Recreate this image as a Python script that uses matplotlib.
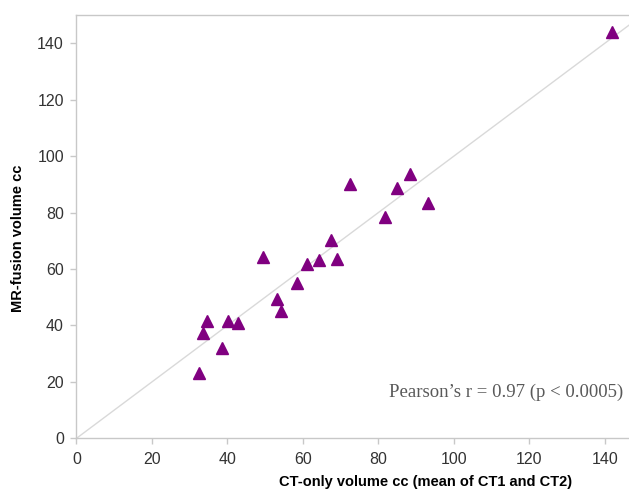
import matplotlib.pyplot as plt

# CT-only volume (mean of CT1 and CT2) vs MR-fusion volume, cc
ct_only = [141.8, 88.4, 72.5, 85.0, 81.8, 93.1, 67.4, 49.3, 68.9, 64.3,
           61.0, 58.3, 53.2, 54.2, 34.5, 40.2, 42.9, 33.4, 38.5, 32.5]
mr_fusion = [143.8, 93.6, 90.1, 88.8, 78.6, 83.5, 70.1, 64.4, 63.5, 63.2,
             61.7, 55.0, 49.5, 45.2, 41.5, 41.7, 40.9, 37.2, 32.1, 23.3]
ticks = [0, 20, 40, 60, 80, 100, 120, 140]
x_max = 146.4
y_max = 150

fig = plt.figure(figsize=(6.29, 4.95), dpi=100)
ax = fig.add_axes([0.1216, 0.1145, 1 - 0.1216, 0.9697 - 0.1145])

# line of identity
ax.plot([0, x_max], [0, x_max], color='#d9d9d9', lw=1, zorder=1)
ax.plot(ct_only, mr_fusion, linestyle='none', marker='^', markersize=8,
        color='#800080', zorder=3)

ax.set_xlim(0, x_max)
ax.set_ylim(0, y_max)
ax.set_xticks(ticks)
ax.set_yticks(ticks)

for side in ['left', 'bottom', 'top']:
    ax.spines[side].set_color('#c8c8c8')
    ax.spines[side].set_linewidth(1)
ax.spines['right'].set_visible(False)
ax.tick_params(direction='out', length=4, width=1, color='#c8c8c8',
               labelsize=11.5, labelcolor='#333333')
ax.tick_params(axis='x', pad=6)
ax.tick_params(axis='y', pad=5)
for lab in ax.get_xticklabels() + ax.get_yticklabels():
    lab.set_fontfamily('Liberation Sans')

fig.text(426 / 629, 1 - 482 / 495, 'CT-only volume cc (mean of CT1 and CT2)',
         ha='center', va='center', fontsize=10.5, fontweight='bold',
         family='Liberation Sans', color='black')
fig.text(18 / 629, 1 - 238 / 495, 'MR-fusion volume cc', rotation=90,
         ha='center', va='center', fontsize=10.5, fontweight='bold',
         family='Liberation Sans', color='black')
fig.text(623 / 629, 1 - 392 / 495, 'Pearson\u2019s r = 0.97 (p < 0.0005)',
         ha='right', va='center', fontsize=13.5, family='Liberation Serif',
         color='#595959')

fig.savefig('out.png', dpi=100)
